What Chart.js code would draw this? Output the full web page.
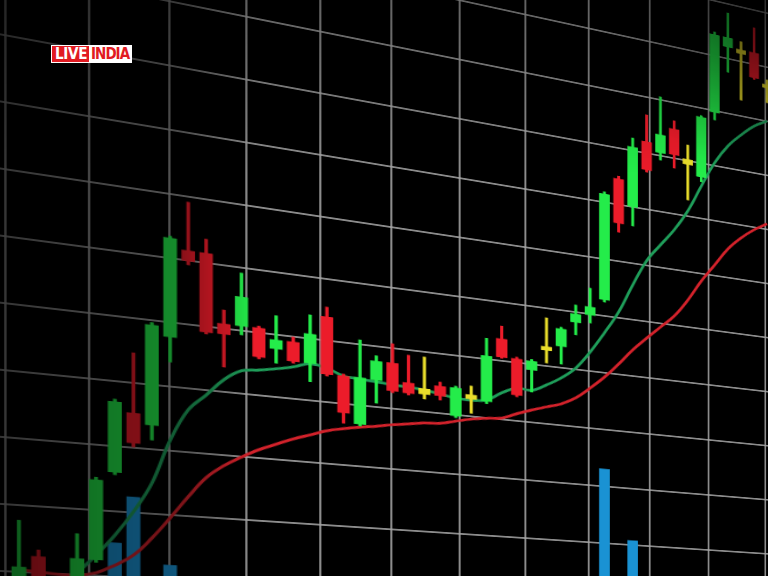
<!DOCTYPE html>
<html>
<head>
<meta charset="utf-8">
<script src="https://cdn.jsdelivr.net/npm/chart.js@4.4.1/dist/chart.umd.min.js"></script>
<style>
  html, body { margin: 0; padding: 0; background: #000; }
  #stage { position: relative; width: 768px; height: 576px; overflow: hidden; background: #000; }
  #chart { position: absolute; left: 0; top: 0; transform-origin: 0 0; }
  #shade {
    position: absolute; left: 0; top: 0; width: 768px; height: 576px; pointer-events: none;
    background:
      radial-gradient(circle at 100% 0%, rgba(0,0,0,0.55) 0px, rgba(0,0,0,0) 170px),
      linear-gradient(to right, rgba(0,0,0,0.62) 0%, rgba(0,0,0,0.4) 24%, rgba(0,0,0,0) 33%),
      linear-gradient(to bottom, rgba(0,0,0,0.3) 0%, rgba(0,0,0,0) 30%);
  }
  #logo {
    position: absolute; left: 51px; top: 45px; height: 16px; display: flex;
    border: 1.5px solid #fff; background: #e11b22;
    font-family: "Liberation Sans Narrow", "DejaVu Sans Condensed", Roboto, sans-serif;
    font-weight: bold; font-size: 15px; line-height: 16px;
  }
  #logo .live { color: #fff; background: #e11b22; padding: 0 2px 0 3px; letter-spacing: -0.3px; }
  #logo .india { color: #e11b22; background: #fff; padding: 0 2px 0 2px; letter-spacing: -1px; }
</style>
</head>
<body>
<div id="stage">
  <canvas id="chart" width="760" height="777"></canvas>
  <div id="shade"></div>
  <div id="logo"><span class="live">LIVE</span><span class="india">INDIA</span></div>
</div>
<script>
"use strict";

// 1: data (price units, one entry per candle)
let opens = [66.5, 72.4, 63.0, 66.1, 72.4, 86.0, 95.3, 93.7, 107.7, 121.5, 121.5, 110.7, 110.7, 110.7, 107.7, 109.1,
  106.0, 113.8, 104.5, 96.9, 104.4, 107.5, 104.5, 103.8, 104.5, 99.8, 102.9, 102.8, 113.7, 110.6, 109.0, 112.7,
  113.7, 118.2, 119.8, 122.8, 144.5, 140.0, 152.0, 150.5, 155.2, 150.2, 147.5, 159.7, 172.1, 172.1, 172.1, 166.7];
let closes = [70.7, 67.4, 66.5, 72.4, 84.6, 96.8, 90.7, 109.2, 123.1, 119.9, 109.1, 109.1, 115.3, 106.1, 109.1, 106.0,
  110.7, 104.5, 98.5, 104.5, 107.5, 102.9, 102.8, 102.9, 102.9, 104.5, 103.6, 110.5, 110.6, 104.4, 110.5, 113.3,
  116.7, 119.6, 121.2, 141.4, 136.7, 150.6, 147.0, 153.7, 150.6, 149.3, 158.3, 173.8, 173.8, 171.4, 167.5, 166.1];
let highs = [77.7, 73.4, 67.5, 76.2, 85.0, 97.2, 104.6, 109.6, 123.4, 129.1, 123.7, 112.9, 119.1, 111.0, 113.0, 109.9,
  113.8, 115.4, 104.8, 110.7, 108.4, 110.7, 109.1, 109.1, 105.2, 104.8, 105.1, 113.5, 115.9, 110.9, 110.8, 118.3,
  117.0, 121.2, 124.5, 141.8, 145.0, 152.2, 156.8, 160.5, 156.7, 152.8, 158.6, 174.3, 178.3, 173.6, 176.7, 167.6];
let lows = [65.7, 66.2, 62.0, 65.3, 72.0, 85.6, 90.1, 91.4, 103.8, 119.3, 108.8, 103.9, 109.3, 105.8, 105.4, 105.7,
  103.0, 104.2, 96.8, 96.6, 100.6, 102.6, 102.5, 102.1, 102.2, 99.5, 100.5, 102.4, 110.4, 104.1, 105.2, 110.5,
  110.6, 116.0, 118.4, 122.4, 135.1, 136.6, 146.6, 149.2, 148.2, 142.9, 146.6, 158.3, 167.5, 162.9, 167.2, 163.4];

// moving averages (green = fast, red = slow)
let maFast = [null, null, 66.0, 70.1, 73.1, 76.3, 80.1, 84.7, 91.6, 96.6, 99.2, 101.9, 103.6, 104.0, 104.5, 105.1,
  105.9, 105.5, 104.5, 104.3, 104.1, 103.9, 103.8, 103.6, 103.2, 102.8, 102.7, 103.0, 104.5, 105.6, 105.5, 106.7,
  108.2, 110.2, 113.3, 117.0, 121.0, 126.1, 130.8, 134.0, 137.1, 140.9, 145.8, 150.5, 154.0, 156.5, 158.6, 160.0];
let maSlow = [70.3, 70.1, 69.9, 69.9, 70.4, 71.7, 73.4, 76.2, 79.5, 83.0, 86.2, 88.3, 89.9, 91.3, 92.4, 93.5,
  94.4, 95.3, 95.9, 96.4, 96.8, 97.3, 97.7, 98.1, 98.3, 98.9, 99.5, 99.9, 100.2, 101.2, 102.1, 102.9,
  103.7, 105.0, 107.0, 109.2, 111.8, 114.6, 117.0, 119.3, 121.6, 124.8, 128.6, 131.9, 135.2, 137.6, 139.5, 141.0];

// volume: only the bars that rise above the bottom edge of the photo
let volumes = [null, null, null, null, null, 71, 143, null, 41, null,
  null, null, null, null, null, null, null, null, null, null,
  null, null, null, null, null, null, null, null, null, null,
  null, null, null, null, null, 250, null, 127, null, null,
  null, null, null, null, null, null, null, null];

// 2: layout of the flat chart and of the photographed screen
const cell = 67;            // canvas px per grid cell
const colStart = 0.164;     // first candle, in grid columns
const colStep = 0.2313;     // candle spacing, in grid columns
const gridLeft = -0.1;      // grid column at the canvas' left edge
const priceTop = 184;       // price at the canvas' top edge
const pricePerRow = 10;     // price between horizontal grid lines
const rowZeroPrice = 150;   // grid row that sits at persp.y0
// perspective: page x = (ax*u + x0)/(k*u + 1), page y = (ay*u + row*v + y0)/(k*u + 1)
const persp = { x0: 5, ax: 85.68, k: 0.02168, y0: 35, ay: 16.5, row: 67 };

function candleColor(i) {
  let d = closes[i] - opens[i];
  if (Math.abs(d) < 1) return "#e9dd2b";
  return d > 0 ? "#24ec4a" : "#ec1c2a";
}

function prepareData() {
  let wicks = [], bodies = [], colors = [], fast = [], slow = [], vols = [];
  for (let i = 0; i < opens.length; i++) {
    wicks.push({ x: i, y: [lows[i], highs[i]] });
    bodies.push({ x: i, y: [Math.min(opens[i], closes[i]), Math.max(opens[i], closes[i])] });
    colors.push(candleColor(i));
    fast.push({ x: i, y: maFast[i] });
    slow.push({ x: i, y: maSlow[i] });
    vols.push({ x: i, y: volumes[i] });
  }
  return { wicks, bodies, colors, fast, slow, vols };
}

function placeCanvas(canvas) {
  let v0 = (rowZeroPrice - priceTop) / pricePerRow;
  let m = [
    persp.ax / cell, persp.ay / cell, 0, persp.k / cell,
    0, persp.row / cell, 0, 0,
    0, 0, 1, 0,
    persp.ax * gridLeft + persp.x0, persp.ay * gridLeft + persp.row * v0 + persp.y0, 0, persp.k * gridLeft + 1
  ];
  canvas.style.transform = "matrix3d(" + m.join(",") + ")";
}

function appendChart(data) {
  let canvas = document.getElementById("chart");
  placeCanvas(canvas);
  let W = canvas.width, H = canvas.height;
  let xMin = (gridLeft - colStart) / colStep;
  let xMax = (gridLeft + W / cell - colStart) / colStep;
  let priceBottom = priceTop - pricePerRow * H / cell;
  let gridLine = { color: "rgba(165,165,165,0.85)", lineWidth: 2, drawTicks: false, offset: false };

  new Chart(canvas, {
    type: "bar",
    data: {
      datasets: [{
        label: "Volume", data: data.vols, yAxisID: "vol", order: 5,
        backgroundColor: "#1a92d3", barThickness: 11, grouped: false
      }, {
        type: "line", label: "MA slow", data: data.slow, order: 4,
        borderColor: "#d3222b", borderWidth: 3, pointRadius: 0, tension: 0.4
      }, {
        type: "line", label: "MA fast", data: data.fast, order: 3,
        borderColor: "#1f9e5a", borderWidth: 3, pointRadius: 0, tension: 0.4
      }, {
        label: "Wick", data: data.wicks, order: 2,
        backgroundColor: data.colors, barThickness: 2.5, grouped: false
      }, {
        label: "Body", data: data.bodies, order: 1,
        backgroundColor: data.colors, barThickness: 11, grouped: false
      }]
    },
    options: {
      responsive: false,
      animation: false,
      layout: { padding: 0 },
      plugins: { legend: { display: false }, tooltip: { enabled: false } },
      scales: {
        x: { type: "linear", min: xMin, max: xMax, offset: false, display: false },
        gx: {
          type: "linear", axis: "x", position: "bottom", min: gridLeft, max: gridLeft + W / cell, offset: false,
          ticks: { display: false, stepSize: 1, includeBounds: false }, grid: gridLine, border: { display: false }
        },
        y: {
          type: "linear", min: priceBottom, max: priceTop,
          ticks: { display: false, stepSize: pricePerRow, includeBounds: false }, grid: gridLine, border: { display: false }
        },
        vol: { type: "linear", min: 0, max: (priceTop - priceBottom) * 10, display: false }
      }
    }
  });
}

let preparedData = prepareData();
appendChart(preparedData);
</script>
</body>
</html>
